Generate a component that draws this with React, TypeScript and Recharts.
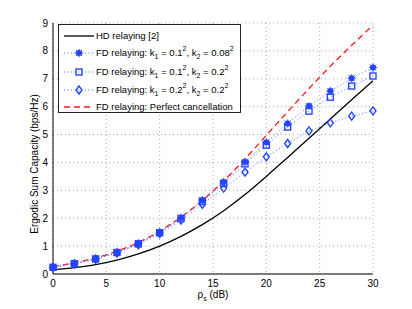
import React from "react";
import { LineChart, Line, XAxis, YAxis, CartesianGrid, Label } from "recharts";

// transmit SNR (dB)
const SNR_DB = [0, 2, 4, 6, 8, 10, 12, 14, 16, 18, 20, 22, 24, 26, 28, 30];
// ergodic sum capacity (bps/Hz)
const HD = [0.15, 0.23, 0.34, 0.5, 0.72, 1.0, 1.35, 1.77, 2.27, 2.85, 3.5, 4.18, 4.87, 5.56, 6.25, 6.93];
const FD_K01_K008 = [0.25, 0.39, 0.55, 0.78, 1.1, 1.5, 2.02, 2.65, 3.3, 4.02, 4.72, 5.4, 6.02, 6.56, 7.02, 7.4];
const FD_K01_K02 = [0.24, 0.37, 0.54, 0.77, 1.08, 1.48, 1.99, 2.6, 3.24, 3.95, 4.62, 5.27, 5.84, 6.34, 6.74, 7.1];
const FD_K02_K02 = [0.23, 0.36, 0.53, 0.75, 1.05, 1.45, 1.93, 2.5, 3.08, 3.65, 4.2, 4.68, 5.13, 5.42, 5.66, 5.85];
const FD_PERFECT = [0.27, 0.4, 0.58, 0.82, 1.13, 1.54, 2.04, 2.64, 3.34, 4.13, 4.97, 5.82, 6.65, 7.45, 8.2, 8.92];

const X_TICKS = [0, 5, 10, 15, 20, 25, 30];
const Y_TICKS = [0, 1, 2, 3, 4, 5, 6, 7, 8, 9];

const data = SNR_DB.map((x, i) => ({
  x,
  hd: HD[i],
  a: FD_K01_K008[i],
  b: FD_K01_K02[i],
  c: FD_K02_K02[i],
  p: FD_PERFECT[i],
}));

const FONT = "'Liberation Sans', Arial, Helvetica, sans-serif";
const BLUE = "#2544ff";
const DOTS = "#5574ff";
const RED = "#ff1a1a";

function Star({ cx, cy }: { cx: number; cy: number }) {
  return (
    <g>
      <circle cx={cx} cy={cy} r={3} fill={BLUE} />
      <path
        d={`M${cx - 4},${cy}H${cx + 4}M${cx},${cy - 4}V${cy + 4}M${cx - 3},${cy - 3}L${cx + 3},${cy + 3}M${cx - 3},${cy + 3}L${cx + 3},${cy - 3}`}
        stroke={BLUE}
        strokeWidth={1}
      />
    </g>
  );
}

function Square({ cx, cy }: { cx: number; cy: number }) {
  return <rect x={cx - 3} y={cy - 3} width={6} height={6} fill="none" stroke={BLUE} strokeWidth={1.4} />;
}

function Diamond({ cx, cy }: { cx: number; cy: number }) {
  return (
    <polygon
      points={`${cx},${cy - 4} ${cx + 3},${cy} ${cx},${cy + 4} ${cx - 3},${cy}`}
      fill="none"
      stroke={BLUE}
      strokeWidth={1.4}
    />
  );
}

const dotFn = (Shape: typeof Star, tag: string) => (props: any) =>
  props.cx == null ? <g key={`${tag}-${props.index}`} /> : (
    <g key={`${tag}-${props.index}`}>
      <Shape cx={props.cx} cy={props.cy} />
    </g>
  );

const sub = { fontSize: 7, verticalAlign: "-3px", lineHeight: 0 } as const;
const sup = { fontSize: 7, verticalAlign: "5px", lineHeight: 0 } as const;

function Sample({ kind }: { kind: string }) {
  return (
    <svg width={32} height={12} style={{ position: "absolute", left: 4, top: -6 }}>
      {kind === "hd" && <line x1={1} y1={6} x2={31} y2={6} stroke="#000" strokeWidth={1.3} />}
      {kind === "p" && <line x1={1} y1={6} x2={31} y2={6} stroke={RED} strokeWidth={1.3} strokeDasharray="6 4" />}
      {(kind === "a" || kind === "b" || kind === "c") && (
        <line x1={1} y1={6} x2={31} y2={6} stroke={DOTS} strokeWidth={1} strokeDasharray="1 2.5" />
      )}
      {kind === "a" && <Star cx={16} cy={6} />}
      {kind === "b" && <Square cx={16} cy={6} />}
      {kind === "c" && <Diamond cx={16} cy={6} />}
    </svg>
  );
}

const LEGEND_ROWS: { kind: string; y: number; text: React.ReactNode }[] = [
  { kind: "hd", y: 11, text: "HD relaying [2]" },
  {
    kind: "a",
    y: 27.5,
    text: (
      <>
        FD relaying: k<span style={sub}>1</span> = 0.1<span style={sup}>2</span>, k<span style={sub}>2</span> = 0.08
        <span style={sup}>2</span>
      </>
    ),
  },
  {
    kind: "b",
    y: 46.5,
    text: (
      <>
        FD relaying: k<span style={sub}>1</span> = 0.1<span style={sup}>2</span>, k<span style={sub}>2</span> = 0.2
        <span style={sup}>2</span>
      </>
    ),
  },
  {
    kind: "c",
    y: 65,
    text: (
      <>
        FD relaying: k<span style={sub}>1</span> = 0.2<span style={sup}>2</span>, k<span style={sub}>2</span> = 0.2
        <span style={sup}>2</span>
      </>
    ),
  },
  { kind: "p", y: 81.5, text: "FD relaying: Perfect cancellation" },
];

export default function App() {
  return (
    <div style={{ position: "absolute", left: 0, top: 0, width: 412, height: 309, background: "#fff", fontFamily: FONT }}>
      <LineChart width={412} height={309} data={data} margin={{ top: 23, right: 39, bottom: 0, left: 0 }}>
        <CartesianGrid xAxisId="x" yAxisId="y" stroke="#a8a8a8" strokeDasharray="1 3" />
        <XAxis
          xAxisId="x"
          dataKey="x"
          type="number"
          domain={[0, 30]}
          ticks={X_TICKS}
          height={35}
          tickLine={false}
          tickSize={0}
          tickMargin={6}
          axisLine={{ stroke: "#000", strokeWidth: 1 }}
          tick={{ fill: "#000", fontSize: 10, fontFamily: FONT }}
        >
          <Label
            content={() => (
              <text x={213} y={298} textAnchor="middle" fontSize={10} fontFamily={FONT} fill="#000">
                ρ<tspan fontSize={7} dy={3}>s</tspan>
                <tspan dy={-3}> (dB)</tspan>
              </text>
            )}
          />
        </XAxis>
        <XAxis
          xAxisId="xb"
          type="number"
          domain={[0, 30]}
          ticks={X_TICKS}
          orientation="bottom"
          mirror
          height={0}
          tick={false}
          tickSize={3}
          axisLine={false}
          tickLine={{ stroke: "#000" }}
        />
        <XAxis
          xAxisId="xt"
          type="number"
          domain={[0, 30]}
          ticks={X_TICKS}
          orientation="top"
          mirror
          height={0}
          tick={false}
          tickSize={3}
          axisLine={{ stroke: "#808080", strokeWidth: 1.3 }}
          tickLine={{ stroke: "#808080" }}
        />
        <YAxis
          yAxisId="y"
          type="number"
          domain={[0, 9]}
          ticks={Y_TICKS}
          width={53}
          tickLine={false}
          tickSize={0}
          tickMargin={5}
          axisLine={{ stroke: "#000", strokeWidth: 1 }}
          tick={{ fill: "#000", fontSize: 10, fontFamily: FONT }}
        >
          <Label
            content={() => (
              <text
                x={0}
                y={0}
                transform="translate(38,164) rotate(-90)"
                textAnchor="middle"
                fontSize={10}
                fontFamily={FONT}
                fill="#000"
              >
                Ergodic Sum Capacity (bps/Hz)
              </text>
            )}
          />
        </YAxis>
        <YAxis
          yAxisId="yl"
          type="number"
          domain={[0, 9]}
          ticks={Y_TICKS}
          orientation="left"
          mirror
          width={0}
          tick={false}
          tickSize={3}
          axisLine={false}
          tickLine={{ stroke: "#000" }}
        />
        <YAxis
          yAxisId="yr"
          type="number"
          domain={[0, 9]}
          ticks={Y_TICKS}
          orientation="right"
          mirror
          width={0}
          tick={false}
          tickSize={3}
          axisLine={{ stroke: "#808080", strokeWidth: 1.3 }}
          tickLine={{ stroke: "#808080" }}
        />
        <Line
          xAxisId="x"
          yAxisId="y"
          dataKey="hd"
          type="monotone"
          stroke="#000"
          strokeWidth={1.3}
          dot={false}
          isAnimationActive={false}
        />
        <Line
          xAxisId="x"
          yAxisId="y"
          dataKey="p"
          type="monotone"
          stroke={RED}
          strokeWidth={1.3}
          strokeDasharray="6 4"
          dot={false}
          isAnimationActive={false}
        />
        <Line
          xAxisId="x"
          yAxisId="y"
          dataKey="c"
          type="linear"
          stroke={DOTS}
          strokeWidth={1}
          strokeDasharray="1 2.5"
          dot={dotFn(Diamond, "c")}
          isAnimationActive={false}
        />
        <Line
          xAxisId="x"
          yAxisId="y"
          dataKey="b"
          type="linear"
          stroke={DOTS}
          strokeWidth={1}
          strokeDasharray="1 2.5"
          dot={dotFn(Square, "b")}
          isAnimationActive={false}
        />
        <Line
          xAxisId="x"
          yAxisId="y"
          dataKey="a"
          type="linear"
          stroke={DOTS}
          strokeWidth={1}
          strokeDasharray="1 2.5"
          dot={dotFn(Star, "a")}
          isAnimationActive={false}
        />
      </LineChart>

      {/* legend box, upper left of the axes */}
      <div
        style={{
          position: "absolute",
          left: 58,
          top: 24,
          width: 183,
          height: 89,
          boxSizing: "border-box",
          border: "1px solid #222",
          background: "#fff",
          fontSize: 9.5,
          color: "#000",
          whiteSpace: "nowrap",
        }}
      >
        {LEGEND_ROWS.map((r) => (
          <div key={r.kind} style={{ position: "absolute", left: 0, top: r.y, height: 0 }}>
            <Sample kind={r.kind} />
            <span style={{ position: "absolute", left: 37, top: -6, lineHeight: "12px" }}>{r.text}</span>
          </div>
        ))}
      </div>
    </div>
  );
}
